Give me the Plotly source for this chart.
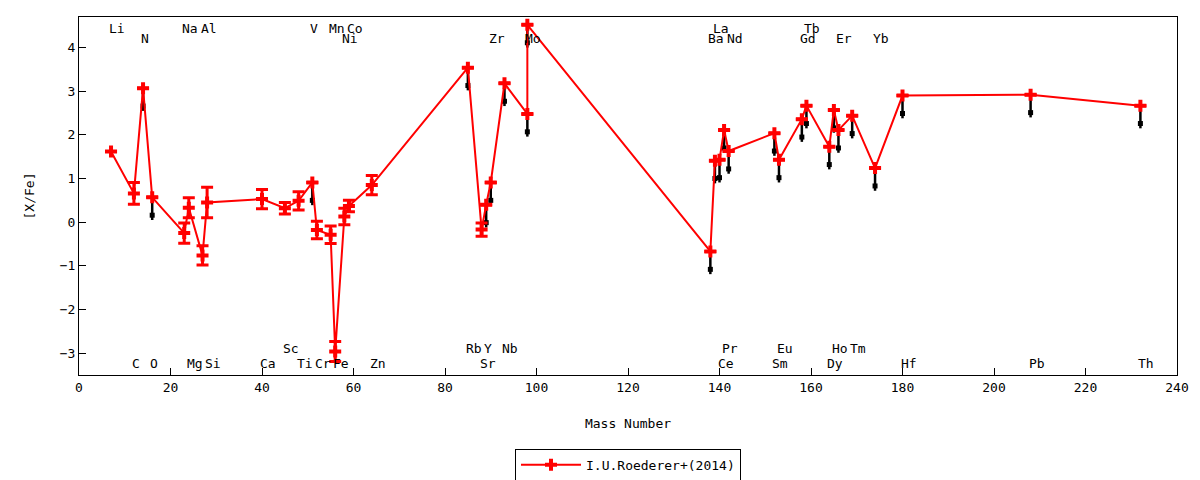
import plotly.graph_objects as go
import numpy as np

# Abundancias [X/Fe] de I.U. Roederer+(2014), ordenadas por numero de masa
mass = [7, 12, 14, 16, 23, 24, 27, 28, 40, 45, 48, 51, 52, 55, 56, 58, 59, 64,
        85, 88, 89, 90, 93, 98, 98,
        138, 139, 140, 141, 142, 152, 153, 158, 159, 164, 165, 166, 169, 174, 180,
        208, 232]
xfe = [1.62, 0.66, 3.07, 0.57, -0.25, 0.33, -0.76, 0.45, 0.53, 0.32, 0.49, 0.91, -0.18, -0.29, -2.96, 0.13, 0.37, 0.85,
       3.54, -0.17, 0.40, 0.91, 3.18, 2.48, 4.52,
       -0.67, 1.41, 1.43, 2.11, 1.63, 2.04, 1.43, 2.36, 2.67, 1.73, 2.57, 2.11, 2.44, 1.24, 2.90,
       2.92, 2.67]
err = [0, 0.25, 0, 0, 0.23, 0.23, 0.22, 0.35, 0.22, 0.13, 0.21, 0, 0.20, 0.20, 0.23, 0.19, 0.13, 0.22,
       0, 0.15, 0, 0, 0, 0, 0,
       0, 0, 0, 0, 0, 0, 0, 0, 0, 0, 0, 0, 0, 0, 0,
       0, 0]
# 1 = limite superior (flecha negra)
upper = [0, 0, 1, 1, 0, 0, 0, 0, 0, 0, 0, 1, 0, 0, 0, 0, 0, 0,
         1, 0, 1, 1, 1, 1, 1,
         1, 1, 1, 1, 1, 1, 1, 1, 1, 1, 1, 1, 1, 1, 1,
         1, 1]

# Etiquetas de elementos (arriba/abajo, dos renglones cada una)
top1_el = ["Li", "Na", "Al", "V", "Mn", "Co", "La", "Tb"]
top1_m = [7, 23, 27, 51, 55, 59, 139, 159]
top2_el = ["N", "Ni", "Zr", "Mo", "Ba", "Nd", "Gd", "Er", "Yb"]
top2_m = [14, 58, 90, 98, 138, 142, 158, 166, 174]
bot1_el = ["Sc", "Rb", "Y", "Nb", "Pr", "Eu", "Ho", "Tm"]
bot1_m = [45, 85, 89, 93, 141, 153, 165, 169]
bot2_el = ["C", "O", "Mg", "Si", "Ca", "Ti", "Cr", "Fe", "Zn", "Sr", "Ce", "Sm", "Dy", "Hf", "Pb", "Th"]
bot2_m = [12, 16, 24, 28, 40, 48, 52, 56, 64, 88, 140, 152, 164, 180, 208, 232]

arrow_len = 0.52

FONT = "DejaVu Sans Mono"

m = np.array(mass)
y = np.array(xfe)
ul = np.array(upper) == 1

fig = go.Figure()

# flechas de limite superior (debajo de la serie roja)
fig.add_trace(go.Scatter(x=m[ul], y=y[ul], mode="markers", showlegend=False,
                         marker=dict(size=1, color="black"), hoverinfo="skip",
                         error_y=dict(type="data", symmetric=False, array=np.zeros(ul.sum()),
                                      arrayminus=np.full(ul.sum(), arrow_len),
                                      color="black", thickness=2.5, width=0)))
fig.add_trace(go.Scatter(x=m[ul], y=y[ul] - arrow_len + 0.11, mode="markers", showlegend=False,
                         marker=dict(symbol="square", size=5, color="black"), hoverinfo="skip"))

fig.add_trace(go.Scatter(x=mass, y=xfe, mode="lines+markers", name="I.U.Roederer+(2014)",
                         line=dict(color="#ff0000", width=2),
                         marker=dict(symbol="cross", size=10, color="#ff0000"),
                         error_y=dict(type="data", array=err, color="#ff0000", thickness=3, width=6)))

rows = [(top1_el, top1_m, 0.969), (top2_el, top2_m, 0.941),
        (bot1_el, bot1_m, 0.073), (bot2_el, bot2_m, 0.031)]
for els, ms, yy in rows:
    for el, mm in zip(els, ms):
        fig.add_annotation(x=mm, y=yy, xref="x", yref="paper", text=el, showarrow=False,
                           xanchor="left", yanchor="middle", xshift=-4,
                           font=dict(family=FONT, size=13, color="black"))

axis = dict(showline=True, linecolor="black", linewidth=1, mirror=True, ticks="inside",
            ticklen=7, tickcolor="black", showgrid=False, zeroline=False, automargin=False,
            tickfont=dict(family=FONT, size=13, color="black"))

fig.update_xaxes(range=[0, 240], dtick=20, title_text="Mass Number",
                 title_font=dict(family=FONT, size=13, color="black"), title_standoff=25, **axis)
fig.update_yaxes(range=[-3.5, 4.7], dtick=1, title_text="[X/Fe]",
                 title_font=dict(family=FONT, size=13, color="black"), title_standoff=22, **axis)

fig.update_layout(width=1200, height=480, plot_bgcolor="white", paper_bgcolor="white",
                  margin=dict(l=79, r=23, t=17, b=105, autoexpand=False),
                  font=dict(family=FONT, size=13, color="black"),
                  legend=dict(orientation="h", x=0.5, y=-0.251, xanchor="center", yanchor="middle",
                              bordercolor="black", borderwidth=1, bgcolor="white", itemwidth=60,
                              font=dict(family=FONT, size=13, color="black")))

# sin margen en el body para que la figura quede en (0, 0)
fig.write_html("out.html", config={"displayModeBar": False},
               post_script="document.body.style.margin = '0';")
